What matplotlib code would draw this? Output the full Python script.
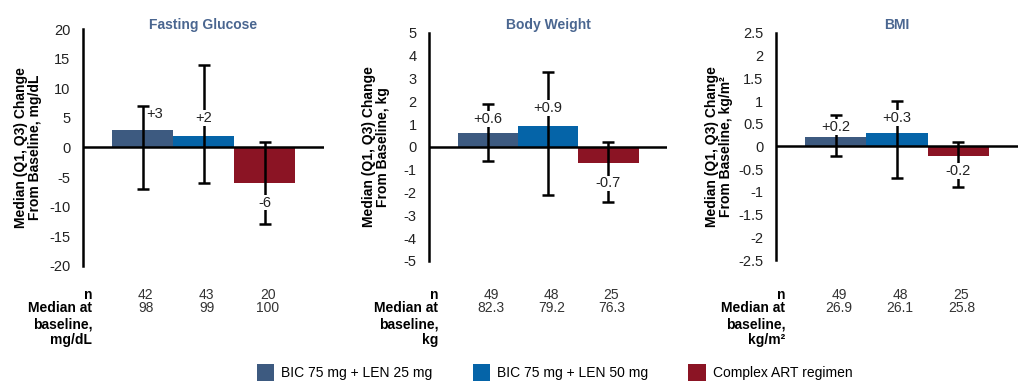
import matplotlib.pyplot as plt
from matplotlib.patches import Patch
from matplotlib.transforms import blended_transform_factory

plt.rcParams['font.family'] = ['Liberation Sans', 'DejaVu Sans']

groups = ["BIC 75 mg + LEN 25 mg", "BIC 75 mg + LEN 50 mg", "Complex ART regimen"]
colors = ["#3d5a80", "#0564a8", "#8b1424"]

titles = ["Fasting Glucose", "Body Weight", "BMI"]
ylabels = ["Median (Q1, Q3) Change\nFrom Baseline, mg/dL",
           "Median (Q1, Q3) Change\nFrom Baseline, kg",
           "Median (Q1, Q3) Change\nFrom Baseline, kg/m²"]

glucose_med = [3, 2, -6]
glucose_q1 = [-7, -6, -13]
glucose_q3 = [7, 14, 1]
glucose_lbl = ["+3", "+2", "-6"]

weight_med = [0.6, 0.9, -0.7]
weight_q1 = [-0.6, -2.1, -2.4]
weight_q3 = [1.9, 3.3, 0.2]
weight_lbl = ["+0.6", "+0.9", "-0.7"]

bmi_med = [0.2, 0.3, -0.2]
bmi_q1 = [-0.2, -0.7, -0.9]
bmi_q3 = [0.7, 1.0, 0.1]
bmi_lbl = ["+0.2", "+0.3", "-0.2"]

glucose_n = [42, 43, 20]
glucose_base = ["98", "99", "100"]
weight_n = [49, 48, 25]
weight_base = ["82.3", "79.2", "76.3"]
bmi_n = [49, 48, 25]
bmi_base = ["26.9", "26.1", "25.8"]
base_labels = ["Median at\nbaseline,\nmg/dL", "Median at\nbaseline,\nkg", "Median at\nbaseline,\nkg/m²"]

panels = [
    (glucose_med, glucose_q1, glucose_q3, glucose_lbl, glucose_n, glucose_base, (-20, 20), 5),
    (weight_med, weight_q1, weight_q3, weight_lbl, weight_n, weight_base, (-5, 5), 1),
    (bmi_med, bmi_q1, bmi_q3, bmi_lbl, bmi_n, bmi_base, (-2.5, 2.5), 0.5),
]

# label placement (data y, x offset)
label_y = [[5.7, 5.0, -9.3], [1.23, 1.7, -1.6], [0.43, 0.63, -0.54]]
label_dx = [[0.2, 0, 0], [0, 0, 0], [0, 0, 0]]

axes_pos = [
    [0.0807, 0.304, 0.234, 0.620],
    [0.417, 0.317, 0.231, 0.597],
    [0.754, 0.319, 0.235, 0.595],
]
ylab_x = [-0.17, -0.165, -0.178]

fig = plt.figure(figsize=(10.29, 3.82), dpi=100)
x = [0, 1, 2]

for i, (med, q1, q3, lbls, ns, bases, ylim, step) in enumerate(panels):
    ax = fig.add_axes(axes_pos[i])
    ax.bar(x, med, width=1.0, color=colors, zorder=2)
    lo = [m - a for m, a in zip(med, q1)]
    hi = [b - m for m, b in zip(med, q3)]
    ax.errorbar(x, med, yerr=[lo, hi], fmt='none', ecolor='black', elinewidth=1.8,
                capsize=4.5, capthick=1.8, zorder=3)
    for j in range(3):
        ax.text(x[j] + label_dx[i][j], label_y[i][j], lbls[j], ha='center', va='center',
                fontsize=10.5, color='#222222', zorder=4,
                bbox=dict(boxstyle='square,pad=0.05', fc='white', ec='none') if label_dx[i][j] == 0 else None)
    ax.axhline(0, color='black', lw=1.8, zorder=5)
    ax.set_xlim(-0.98, 2.97)
    ax.set_ylim(*ylim)
    n_ticks = int(round((ylim[1] - ylim[0]) / step)) + 1
    ticks = [ylim[0] + k * step for k in range(n_ticks)]
    ax.set_yticks(ticks)
    ax.set_yticklabels([f"{t:g}" for t in ticks])
    ax.tick_params(axis='y', length=0, pad=9, labelsize=10.5, labelcolor='#222222')
    ax.set_xticks([])
    for s in ['top', 'right', 'bottom']:
        ax.spines[s].set_visible(False)
    ax.spines['left'].set_linewidth(1.8)
    ax.set_ylabel(ylabels[i], fontsize=10, fontweight='bold', linespacing=1.0)
    ax.yaxis.set_label_coords(ylab_x[i], 0.5)

    tr = blended_transform_factory(ax.transAxes, fig.transFigure)
    ax.text(0.5, 0.934, titles[i], transform=tr, ha='center', va='center',
            fontsize=10, fontweight='bold', color='#4a6690')

    tr = blended_transform_factory(ax.transData, fig.transFigure)
    ax.text(-0.83, 0.229, "n", transform=tr, ha='right', va='center', fontsize=10, fontweight='bold')
    ax.text(-0.83, 0.211, base_labels[i], transform=tr, ha='right', va='top',
            fontsize=10, fontweight='bold', linespacing=1.15)
    for j in range(3):
        ax.text(x[j] + 0.05, 0.229, str(ns[j]), transform=tr, ha='center', va='center',
                fontsize=10, color='#333333')
        ax.text(x[j] + 0.05, 0.193, bases[j], transform=tr, ha='center', va='center',
                fontsize=10, color='#333333')

handles = [Patch(facecolor=c, edgecolor='none') for c in colors]
fig.legend(handles, groups, loc='center', bbox_to_anchor=(0.539, 0.026), ncol=3,
           frameon=False, fontsize=10, handlelength=1.25, handleheight=1.5,
           handletextpad=0.5, columnspacing=2.9)

fig.savefig("out.png", dpi=100)
